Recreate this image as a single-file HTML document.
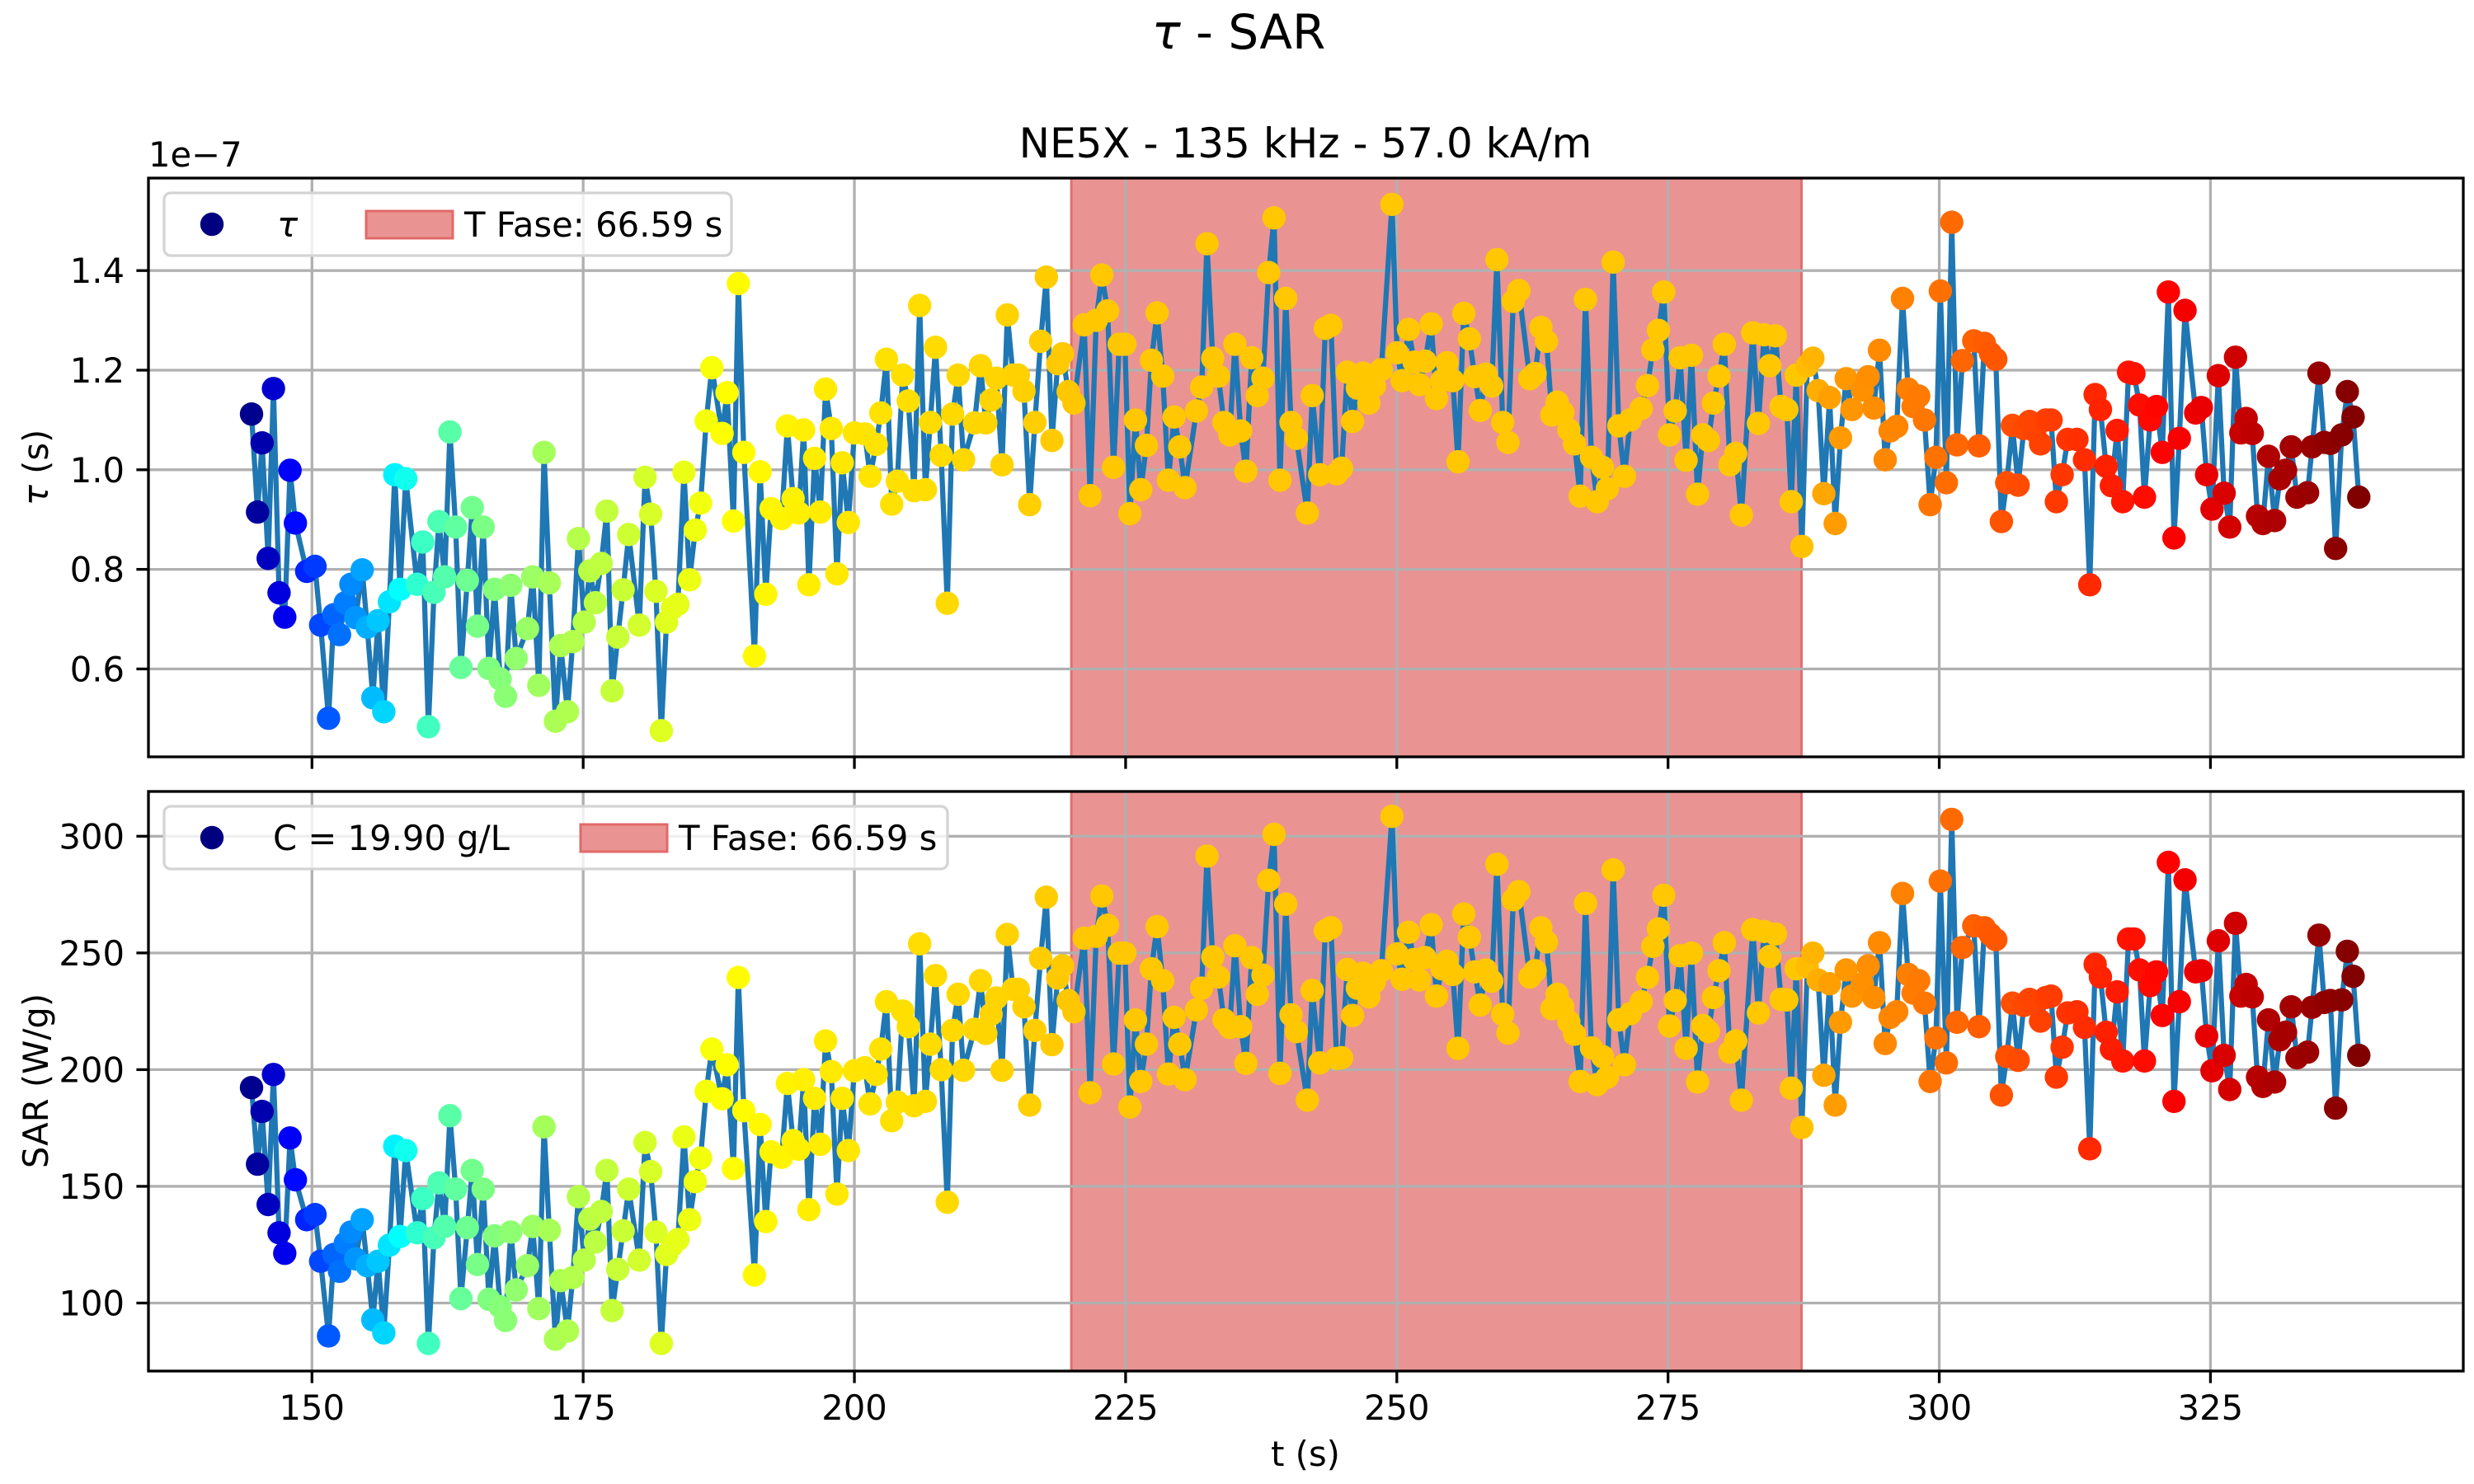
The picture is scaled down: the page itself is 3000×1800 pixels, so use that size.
<!DOCTYPE html>
<html><head><meta charset="utf-8"><title>τ - SAR</title>
<style>
html,body{margin:0;padding:0;background:#fff;}
svg{display:block;font-family:"DejaVu Sans","Liberation Sans",sans-serif;}
</style></head>
<body>
<svg id="fig" xmlns="http://www.w3.org/2000/svg" width="3000" height="1800" viewBox="0 0 3000 1800">
<rect x="0" y="0" width="3000" height="1800" fill="#fff"/>
<text x="1502" y="59" font-size="58" text-anchor="middle"><tspan font-style="italic">τ</tspan> - SAR</text>
<text x="1583" y="191" font-size="50" text-anchor="middle">NE5X - 135 kHz - 57.0 kA/m</text>
<text x="180" y="202" font-size="41.7">1e−7</text>
<text transform="translate(58,567) rotate(-90)" font-size="41.7" text-anchor="middle"><tspan font-style="italic">τ</tspan> (s)</text>
<text transform="translate(58,1311) rotate(-90)" font-size="41.7" text-anchor="middle">SAR (W/g)</text>
<text x="1583" y="1778" font-size="41.7" text-anchor="middle">t (s)</text>
<g id="top"></g>
<g id="bot"></g>
</svg>
<script>
// ---- data ----
const times = [144.43,144.98,145.40,145.96,146.45,146.97,147.49,147.98,148.47,149.51,150.28,150.80,151.53,152.02,152.54,153.07,153.59,154.04,154.63,155.09,155.61,156.10,156.62,157.14,157.63,158.12,158.64,159.69,160.21,160.73,161.25,161.71,162.23,162.72,163.24,163.73,164.32,164.77,165.26,165.78,166.31,166.83,167.35,167.84,168.33,168.82,169.86,170.35,170.91,171.39,171.88,172.44,172.93,173.55,174.04,174.56,175.09,175.61,176.13,176.66,177.18,177.67,178.19,178.68,179.20,180.17,180.70,181.22,181.71,182.20,182.68,183.21,183.73,184.29,184.81,185.33,185.82,186.34,186.86,187.80,188.26,188.85,189.30,
189.81,190.79,191.31,191.83,192.32,193.30,193.82,194.35,194.87,195.32,195.81,196.33,196.86,197.34,197.87,198.39,198.88,199.44,200.00,200.96,201.45,202.01,202.43,202.95,203.44,203.96,204.45,204.97,205.50,206.02,206.54,207.00,207.48,208.00,208.56,209.05,209.57,210.06,211.07,211.63,212.11,212.60,213.09,213.61,214.10,214.62,215.11,215.63,216.16,216.64,217.17,217.69,218.21,218.74,219.19,219.71,220.24,221.18,221.73,222.29,222.81,223.34,223.89,224.41,224.94,225.39,225.91,226.40,226.92,227.38,227.90,228.42,228.95,229.47,229.99,230.48,231.53,232.01,232.50,233.03,233.55,234.07,234.60,235.08,235.61,236.09,236.62,237.14,237.66,238.19,238.68,239.23,239.76,240.25,240.74,241.75,242.20,
242.89,243.41,243.93,244.46,244.91,245.43,245.92,246.37,246.90,247.42,247.94,248.57,249.55,250.03,250.49,251.08,251.60,252.09,252.61,253.17,253.66,254.15,254.63,255.16,255.64,256.17,256.69,257.18,257.70,258.22,258.75,259.23,259.76,260.25,260.73,261.25,262.26,262.75,263.28,263.80,264.29,264.78,265.30,265.86,266.38,266.90,267.39,267.95,268.47,268.96,269.41,269.94,270.46,270.98,271.51,272.52,273.11,273.60,274.12,274.61,275.14,275.66,276.11,276.67,277.16,277.72,278.20,278.73,279.18,279.70,280.19,280.71,281.24,281.76,282.81,283.33,283.85,284.38,284.90,285.42,285.95,286.36,286.82,287.34,287.83,288.35,288.84,289.36,289.89,290.41,290.90,291.42,291.95,292.92,293.45,293.97,294.49,295.02,295.47,
296.08,296.61,297.13,297.59,298.11,298.64,299.16,299.69,300.10,300.66,301.15,301.64,302.13,303.18,303.67,304.16,304.72,305.21,305.73,306.22,306.75,307.27,307.80,308.32,308.81,309.34,309.83,310.31,310.80,311.33,311.85,312.69,313.39,313.88,314.37,314.86,315.38,315.87,316.40,316.92,317.45,317.94,318.46,318.92,319.44,320.03,320.56,321.12,321.64,322.13,322.66,323.64,324.16,324.65,325.14,325.73,326.26,326.78,327.31,327.80,328.29,328.85,329.34,329.83,330.35,330.91,331.40,331.92,332.45,332.97,333.95,334.37,335.00,335.49,336.05,336.54,337.10,337.62,338.15,338.67];
// tau values in units of 1e-7 s
const tauValues = [1.112,0.915,1.054,0.822,1.163,0.753,0.704,0.999,0.893,0.796,0.806,0.688,0.501,0.709,0.669,0.733,0.770,0.703,0.799,0.684,0.542,0.697,0.514,0.735,0.990,0.760,0.982,0.770,0.855,0.484,0.754,0.896,0.785,1.076,0.885,0.603,0.778,0.924,0.686,0.885,0.601,0.760,0.580,0.545,0.768,0.621,0.681,0.785,0.567,1.035,0.773,0.495,0.647,0.514,0.655,0.862,0.694,0.797,0.733,0.812,0.917,0.556,0.664,0.759,0.870,0.688,0.985,0.911,0.756,0.476,0.694,0.722,0.730,0.995,0.779,0.879,0.933,1.098,1.205,1.073,1.155,0.897,1.374,
1.035,0.626,0.996,0.750,0.922,0.902,1.088,0.942,0.913,1.080,0.769,1.023,0.915,1.162,1.083,0.791,1.014,0.894,1.074,1.072,0.987,1.051,1.114,1.222,0.931,0.977,1.190,1.138,0.958,1.330,0.960,1.095,1.246,1.029,0.732,1.112,1.190,1.020,1.094,1.209,1.094,1.140,1.184,1.010,1.311,1.190,1.190,1.158,0.930,1.095,1.258,1.387,1.059,1.213,1.233,1.157,1.134,1.291,0.948,1.300,1.391,1.319,1.005,1.252,1.252,0.912,1.100,0.960,1.049,1.220,1.315,1.188,0.979,1.106,1.046,0.964,1.118,1.166,1.454,1.224,1.188,1.095,1.070,1.252,1.078,0.997,1.225,1.149,1.184,1.396,1.506,0.979,1.344,1.095,1.063,0.913,1.149,
0.990,1.284,1.290,0.992,1.003,1.196,1.097,1.164,1.194,1.134,1.168,1.201,1.533,1.235,1.179,1.282,1.216,1.171,1.218,1.293,1.143,1.179,1.215,1.179,1.016,1.314,1.263,1.187,1.119,1.192,1.168,1.422,1.095,1.055,1.338,1.360,1.183,1.193,1.286,1.258,1.110,1.136,1.115,1.080,1.052,0.947,1.342,1.025,0.936,1.005,0.962,1.417,1.088,0.987,1.100,1.123,1.169,1.241,1.280,1.357,1.070,1.118,1.225,1.019,1.230,0.951,1.070,1.059,1.134,1.188,1.252,1.010,1.033,0.909,1.275,1.093,1.271,1.209,1.269,1.127,1.121,0.936,1.190,0.846,1.209,1.224,1.159,0.952,1.145,0.892,1.064,1.183,1.121,1.160,1.187,1.124,1.240,1.020,1.078,
1.087,1.344,1.162,1.127,1.148,1.100,0.930,1.025,1.359,0.974,1.497,1.050,1.219,1.259,1.048,1.254,1.234,1.222,0.896,0.974,1.089,0.969,1.083,1.097,1.078,1.052,1.100,1.100,0.936,0.990,1.061,1.061,1.020,0.769,1.151,1.121,1.007,0.968,1.079,0.936,1.196,1.193,1.130,0.945,1.100,1.127,1.035,1.357,0.863,1.063,1.320,1.114,1.125,0.990,0.921,1.189,0.953,0.885,1.226,1.074,1.103,1.073,0.907,0.892,1.027,0.898,0.982,0.999,1.046,0.945,0.954,1.046,1.194,1.055,1.053,0.842,1.070,1.157,1.106,0.945];
const sarValues = [192.3,159.5,182.1,142.2,197.9,130.1,121.3,170.7,152.8,135.7,137.9,117.9,85.9,120.8,113.6,125.6,130.4,118.9,135.7,116.0,92.8,117.9,87.2,124.8,167.2,128.5,165.3,130.1,144.8,82.7,128.0,151.5,132.8,180.3,148.8,101.9,132.3,156.8,116.5,148.8,101.6,128.8,98.4,92.5,130.4,105.6,116.0,132.8,97.6,175.5,131.2,84.5,109.6,88.0,110.9,145.6,118.4,136.0,126.1,139.2,156.8,96.8,114.4,130.9,148.8,118.4,168.8,156.3,130.4,82.7,120.8,124.8,127.2,171.2,135.7,152.0,162.1,190.7,208.8,187.5,202.1,157.6,239.5,
182.4,112.0,176.5,134.9,164.8,162.4,194.1,169.6,165.9,195.7,140.0,187.7,168.0,212.3,199.2,146.7,187.7,165.3,199.5,200.8,185.3,197.9,208.8,229.1,178.1,186.1,225.1,218.4,184.5,253.9,186.4,210.9,240.3,200.0,143.2,216.8,232.3,199.7,217.3,238.1,215.5,223.7,230.7,199.7,257.9,234.4,234.4,226.9,184.8,216.8,247.7,273.9,210.7,239.2,244.5,229.6,224.8,256.3,190.1,257.1,274.4,261.9,202.4,249.9,249.9,184.0,221.3,194.9,210.9,243.2,261.3,238.1,198.1,222.4,210.9,195.7,225.6,234.9,291.5,248.3,239.7,221.3,218.1,253.1,218.4,202.7,248.0,232.3,240.5,281.1,300.8,198.4,270.9,223.5,216.3,186.9,233.9,
202.9,259.5,260.8,204.8,205.1,242.9,223.2,234.9,241.3,231.2,237.6,242.4,308.5,249.6,238.7,258.9,247.2,238.4,248.0,262.1,231.5,243.2,246.4,240.8,209.1,266.7,256.8,241.9,227.7,242.7,237.9,288.0,223.7,215.7,272.8,276.3,239.7,242.4,260.8,254.7,226.1,232.3,226.9,220.5,215.2,194.9,271.2,209.3,193.6,205.6,196.8,285.6,221.3,202.1,224.0,229.1,239.5,252.8,260.3,274.7,218.7,229.6,248.8,209.1,249.9,194.7,218.9,216.3,230.9,242.4,254.4,207.5,212.3,186.9,260.0,224.3,259.2,248.5,258.1,230.1,229.9,192.0,243.2,175.2,244.0,249.9,238.4,197.6,236.8,184.8,220.3,242.7,231.5,236.8,244.5,230.9,254.4,211.2,222.4,
224.8,275.5,240.8,232.8,238.1,228.5,194.9,213.6,280.8,202.9,307.2,220.3,252.3,261.6,218.4,260.8,257.9,255.7,189.1,205.6,228.5,204.0,227.5,230.1,228.8,220.8,230.9,231.5,196.8,209.6,224.3,224.8,218.1,166.1,245.1,239.7,216.0,208.8,233.3,203.7,256.0,256.0,242.7,203.7,236.0,241.9,223.2,288.8,186.4,229.1,281.3,241.9,242.4,214.4,199.5,255.2,206.1,191.5,262.7,231.5,236.5,231.2,196.8,192.8,221.3,194.7,212.8,216.0,226.9,205.1,207.5,226.7,257.6,228.8,229.6,183.5,229.9,250.7,240.0,206.1];
// colour key (jet fraction) at a few times
const colorStopTimes = [144,146.5,148,151,154,156.5,160,165,172,180,188,200,215,220,287,290,297,303,313,320,325,330,338.7];
const colorStopFracs = [0,0.08,0.12,0.2,0.27,0.33,0.43,0.49,0.54,0.58,0.625,0.65,0.67,0.68,0.68,0.72,0.75,0.78,0.83,0.87,0.9,0.95,1.0];
const xTicks = [150,175,200,225,250,275,300,325];
const tauTicks = [0.6,0.8,1.0,1.2,1.4];
const tauTickLabels = ["0.6","0.8","1.0","1.2","1.4"];
const sarTicks = [100,150,200,250,300];
const phaseSpan = [220.0, 287.3];
const phaseLabel = "T Fase: 66.59 s";
const concLabel = "C = 19.90 g/L";

// ---- geometry ----
const NS = "http://www.w3.org/2000/svg";
const AX_L = 180, AX_R = 2987;
const TOP = {y0:216, y1:918}, BOT = {y0:960, y1:1663};
function xScale(t){ return 378.3 + (t-150)*13.155; }
function tauScale(v){ return 328.2 + (1.4 - v)*604; }
function sarScale(v){ return 1014.3 + (300 - v)*2.831; }
function jet(f){
  const c = v => Math.round(255*Math.max(0,Math.min(1,v)));
  return `rgb(${c(1.5-Math.abs(4*f-3))},${c(1.5-Math.abs(4*f-2))},${c(1.5-Math.abs(4*f-1))})`;
}
function colorFrac(t){
  if (t <= colorStopTimes[0]) return colorStopFracs[0];
  for (let i=1;i<colorStopTimes.length;i++){
    if (t <= colorStopTimes[i]){
      const a = (t-colorStopTimes[i-1])/(colorStopTimes[i]-colorStopTimes[i-1]);
      return colorStopFracs[i-1] + a*(colorStopFracs[i]-colorStopFracs[i-1]);
    }
  }
  return 1;
}
function mk(tag, attrs, parent){
  const e = document.createElementNS(NS, tag);
  for (const k in attrs) e.setAttribute(k, attrs[k]);
  parent.appendChild(e);
  return e;
}

function drawAxes(g, box, vals, yScale, yTicks, yLabels, showXLabels, legendText, legendBox, prefix){
  const clipId = prefix + "-clip";
  const defs = mk("defs", {}, g);
  const cp = mk("clipPath", {id: clipId}, defs);
  mk("rect", {x: AX_L, y: box.y0, width: AX_R-AX_L, height: box.y1-box.y0}, cp);
  const span = mk("rect", {x: xScale(phaseSpan[0]), y: box.y0, width: xScale(phaseSpan[1])-xScale(phaseSpan[0]), height: box.y1-box.y0, fill: "rgb(234,147,147)", stroke: "rgb(226,110,110)", "stroke-width": 3}, g);
  
  
  const grid = mk("g", {stroke: "#b0b0b0", "stroke-width": 3.3}, g);
  
  
  xTicks.forEach(t => mk("line", {x1: xScale(t), x2: xScale(t), y1: box.y0, y2: box.y1}, grid));
  yTicks.forEach(v => mk("line", {x1: AX_L, x2: AX_R, y1: yScale(v), y2: yScale(v)}, grid));
  const data = mk("g", {"clip-path": `url(#${clipId})`}, g);
  const pts = times.map((t,i) => xScale(t).toFixed(1) + "," + yScale(vals[i]).toFixed(1)).join(" ");
  const line = mk("polyline", {points: pts, fill: "none", stroke: "#1f77b4", "stroke-width": 6.25, "stroke-linejoin": "round"}, data);
  
  
  times.forEach((t,i) => {
    const c = mk("circle", {cx: xScale(t).toFixed(1), cy: yScale(vals[i]).toFixed(1), r: 14.2, fill: jet(colorFrac(t))}, data);
    
    
  });
  const fr = mk("rect", {x: AX_L, y: box.y0, width: AX_R-AX_L, height: box.y1-box.y0, fill: "none", stroke: "#000", "stroke-width": 3.3}, g);
  
  
  xTicks.forEach(t => {
    mk("line", {x1: xScale(t), x2: xScale(t), y1: box.y1, y2: box.y1+14.6, stroke: "#000", "stroke-width": 3.3}, g);
    if (showXLabels){
      const tx = mk("text", {x: xScale(t), y: box.y1+59, "font-size": 41.7, "text-anchor": "middle"}, g);
      tx.textContent = String(t);
      
      
    }
  });
  yTicks.forEach((v,i) => {
    mk("line", {x1: AX_L-14.6, x2: AX_L, y1: yScale(v), y2: yScale(v), stroke: "#000", "stroke-width": 3.3}, g);
    const tx = mk("text", {x: AX_L-29, y: yScale(v)+15, "font-size": 41.7, "text-anchor": "end"}, g);
    tx.textContent = yLabels[i];
    
    
  });
  const lg = mk("g", {}, g);
  
  
  mk("rect", {x: legendBox.x, y: legendBox.y, width: legendBox.w, height: 76, rx: 8, fill: "rgba(255,255,255,0.8)", stroke: "#d4d4d4", "stroke-width": 3.3}, lg);
  const mc = legendBox.y + 38;
  mk("circle", {cx: legendBox.x + 58, cy: mc, r: 14.2, fill: "#000080"}, lg);
  const t1 = mk("text", {x: legendBox.textX, y: mc+15, "font-size": 41.7}, lg);
  if (legendText === "tau"){ t1.setAttribute("font-style","italic"); t1.textContent = "τ"; }
  else t1.textContent = legendText;
  
  
  mk("rect", {x: legendBox.patchX, y: mc-16, width: 105, height: 33, fill: "rgb(234,147,147)", stroke: "rgb(226,105,105)", "stroke-width": 3}, lg);
  const t2 = mk("text", {x: legendBox.patchX+119, y: mc+15, "font-size": 41.7}, lg);
  t2.textContent = phaseLabel;
  
  
}

drawAxes(document.getElementById("top"), TOP, tauValues, tauScale, tauTicks, tauTickLabels, false, "tau",
  {x: 199, y: 234, w: 688, textX: 336, patchX: 444}, "tau");
drawAxes(document.getElementById("bot"), BOT, sarValues, sarScale, sarTicks, sarTicks.map(String), true, concLabel,
  {x: 199, y: 978, w: 950, textX: 331, patchX: 704}, "sar");
</script>
</body></html>
